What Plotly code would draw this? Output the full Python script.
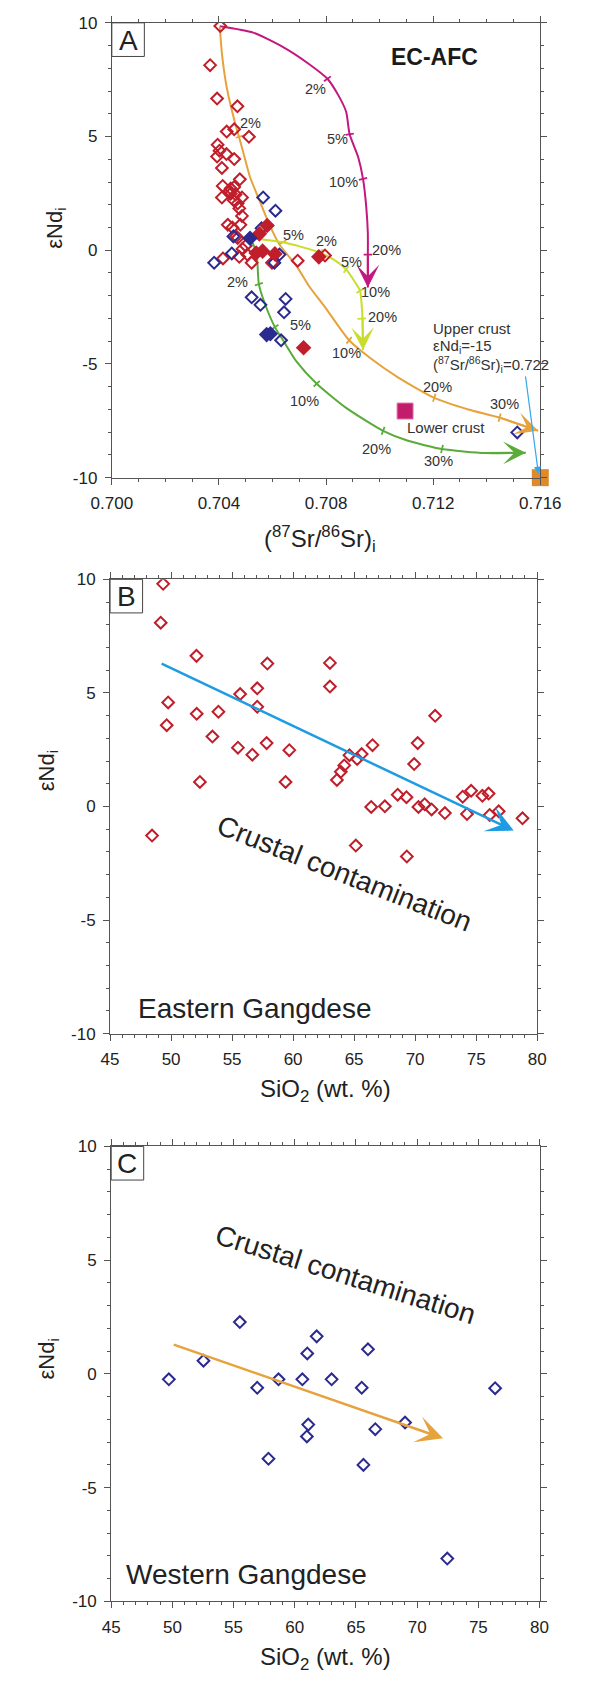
import math
import plotly.graph_objects as go

W, H = 590, 1686
FONT = "Liberation Sans, Arial, sans-serif"

# ---------------- Panel A data ----------------
a_red_open_x = [0.70405, 0.70367, 0.70393, 0.70469, 0.70429, 0.70457, 0.70512, 0.70395, 0.70402, 0.70428,
                0.70457, 0.70393, 0.70411, 0.70478, 0.70414, 0.70444, 0.70457, 0.70411, 0.70486, 0.70444,
                0.70470, 0.70476, 0.70486, 0.70433, 0.70480, 0.70470, 0.70488, 0.70415, 0.70476, 0.70506,
                0.70522, 0.70598, 0.70694, 0.70796, 0.70464, 0.70455, 0.70440, 0.70462, 0.70450, 0.70500]
a_red_open_y = [9.86, 8.14, 6.67, 6.33, 5.22, 5.32, 4.99, 4.64, 4.38, 4.23,
                4.01, 4.12, 3.62, 3.12, 2.83, 2.71, 2.78, 2.32, 2.32, 2.49,
                2.06, 1.84, 1.51, 1.12, 1.12, 0.54, 0.06, -0.36, -0.29, -0.19,
                -0.55, -0.55, -0.46, -0.23, 0.61, 2.20, 2.60, 2.45, 1.00, 0.20]
a_red_fill_x = [0.70580, 0.70551, 0.70563, 0.70609, 0.70539, 0.70773, 0.70716]
a_red_fill_y = [1.09, 0.72, -0.04, -0.16, -0.12, -0.29, -4.29]
a_blue_open_x = [0.70565, 0.70611, 0.70382, 0.70448, 0.70454, 0.70559, 0.70607, 0.70522, 0.70555,
                 0.70649, 0.70643, 0.70632, 0.71514, 0.70626]
a_blue_open_y = [2.32, 1.74, -0.55, -0.14, 0.61, 0.97, -0.55, -2.07, -2.40,
                 -2.14, -2.73, -3.96, -8.01, -0.19]
a_blue_fill_x = [0.70516, 0.70578, 0.70592]
a_blue_fill_y = [0.53, -3.71, -3.67]

lower_crust_x, lower_crust_y = [0.71095], [-7.07]
upper_crust_x, upper_crust_y = [0.71600], [-10.0]

# EC-AFC model curves (last point = arrow tip)
magenta_x = [0.70403, 0.70528, 0.70643, 0.70736, 0.70805, 0.70846, 0.70875, 0.70888, 0.70920, 0.70938,
             0.70950, 0.70956, 0.70956, 0.70956]
magenta_y = [9.85, 9.57, 8.91, 8.19, 7.54, 6.81, 6.09, 5.10, 4.09, 3.14, 1.91, 0.75, -0.19, -1.64]
orange_x = [0.70403, 0.70412, 0.70430, 0.70459, 0.70484, 0.70516, 0.70551, 0.70586, 0.70626, 0.70690,
            0.70736, 0.70796, 0.70886, 0.70966, 0.71070, 0.71204, 0.71331, 0.71448, 0.71592]
orange_y = [9.83, 8.55, 7.10, 5.65, 4.60, 3.22, 2.20, 1.19, 0.25, -0.70,
            -1.57, -2.50, -3.96, -4.75, -5.60, -6.49, -7.00, -7.36, -7.94]
yellow_x = [0.70516, 0.70638, 0.70701, 0.70780, 0.70829, 0.70875, 0.70909, 0.70927, 0.70933, 0.70936, 0.70938]
yellow_y = [0.55, 0.35, 0.17, -0.12, -0.41, -0.84, -1.42, -1.78, -2.43, -3.01, -4.39]
green_x = [0.70516, 0.70540, 0.70549, 0.70574, 0.70609, 0.70643, 0.70690, 0.70765, 0.70875, 0.71013,
           0.71106, 0.71233, 0.71395, 0.71546]
green_y = [0.55, -0.10, -1.49, -2.43, -3.38, -4.03, -4.90, -5.87, -6.93, -7.94,
           -8.38, -8.74, -8.92, -8.90]

# curve percentage ticks and labels
magenta_tick_x = [0.70805, 0.70888, 0.70938, 0.70956]
magenta_tick_y = [7.54, 5.10, 3.14, -0.19]
magenta_lab_x = [0.70759, 0.70842, 0.70864, 0.71027]
magenta_lab_y = [7.10, 4.88, 3.00, 0.03]
magenta_lab = ["2%", "5%", "10%", "20%"]
orange_tick_x = [0.70478, 0.70638, 0.70886, 0.71204, 0.71448]
orange_tick_y = [5.00, 0.35, -3.96, -6.49, -7.36]
orange_lab_x = [0.70516, 0.70678, 0.70875, 0.71216, 0.71468]
orange_lab_y = [5.58, 0.68, -4.54, -6.03, -6.75]
orange_lab = ["2%", "5%", "10%", "20%", "30%"]
yellow_tick_x = [0.70780, 0.70875, 0.70927, 0.70933]
yellow_tick_y = [-0.12, -0.84, -1.78, -3.01]
yellow_lab_x = [0.70803, 0.70896, 0.70985, 0.71011]
yellow_lab_y = [0.39, -0.52, -1.83, -2.94]
yellow_lab = ["2%", "5%", "10%", "20%"]
green_tick_x = [0.70549, 0.70609, 0.70765, 0.71013, 0.71233]
green_tick_y = [-1.49, -3.38, -5.87, -7.94, -8.74]
green_lab_x = [0.70470, 0.70704, 0.70718, 0.70988, 0.71219]
green_lab_y = [-1.39, -3.27, -6.64, -8.74, -9.25]
green_lab = ["2%", "5%", "10%", "20%", "30%"]

upper_arrow_x = [0.71544, 0.71593]
upper_arrow_y = [-5.48, -9.83]

# ---------------- Panel B data (Eastern Gangdese) ----------------
b_sio2 = [49.35, 49.15, 52.08, 57.89, 63.02, 63.02, 55.66, 57.06, 57.06, 49.76,
          49.64, 52.10, 53.88, 53.39, 71.64, 55.48, 56.66, 57.83, 59.69, 52.36,
          59.38, 66.51, 70.21, 69.92, 64.62, 65.62, 65.25, 64.19, 63.91, 63.59,
          66.40, 67.52, 68.57, 69.29, 70.27, 70.78, 71.35, 72.44, 73.90, 74.59,
          74.25, 75.51, 76.02, 76.11, 76.85, 78.80, 48.44, 65.14, 69.32]
b_end = [9.80, 8.09, 6.63, 6.29, 6.32, 5.28, 4.95, 5.20, 4.39, 4.58,
         3.58, 4.08, 4.17, 3.08, 3.99, 2.59, 2.28, 2.79, 2.48, 1.08,
         1.08, 2.70, 2.79, 1.87, 2.26, 2.31, 2.09, 1.81, 1.53, 1.17,
         -0.02, 0.01, 0.52, 0.41, -0.02, 0.10, -0.13, -0.29, 0.43, 0.69,
         -0.33, 0.47, 0.57, -0.37, -0.21, -0.52, -1.28, -1.72, -2.20]
b_arrow_x = [49.10, 78.08]
b_arrow_y = [6.32, -1.06]

# ---------------- Panel C data (Western Gangdese) ----------------
c_sio2 = [49.71, 52.54, 55.51, 56.93, 58.67, 57.85, 60.62, 61.02, 61.79, 61.10,
          60.99, 63.01, 65.47, 65.98, 65.61, 66.58, 69.01, 76.37, 72.46]
c_end = [-0.24, 0.58, 2.28, -0.61, -0.24, -3.73, -0.24, 0.90, 1.65, -2.23,
         -2.75, -0.24, -0.61, 1.08, -4.00, -2.43, -2.14, -0.63, -8.12]
c_arrow_x = [49.99, 72.12]
c_arrow_y = [1.31, -2.83]

# tick labels
a_xticks = [0.700, 0.704, 0.708, 0.712, 0.716]
a_xlabels = ["0.700", "0.704", "0.708", "0.712", "0.716"]
sio2_ticks = [45, 50, 55, 60, 65, 70, 75, 80]
sio2_labels = ["45", "50", "55", "60", "65", "70", "75", "80"]
end_ticks = [-10, -5, 0, 5, 10]
end_labels = ["-10", "-5", "0", "5", "10"]

# ---------------- colours ----------------
RED = "#bf1e2a"
NAVY = "#2b2a8e"
MAGENTA = "#c2187f"
ORANGE = "#e6a23c"
YELLOW = "#c9dd2a"
GREEN = "#5aab3a"
BLUE = "#1f9be2"
AXC = "#555555"
TXT = "#222222"

# ---------------- layout geometry (pixels) ----------------
PANELS = {
    "A": dict(x0=97.8, x1=559.1, y0=14.0, y1=474.0, xr=[0.700, 0.716]),
    "B": dict(x0=95.9, x1=555.7, y0=576.8, y1=1036.4, xr=[45, 80]),
    "C": dict(x0=97.1, x1=558.3, y0=1150.4, y1=1610.5, xr=[45, 80]),
}


def pxf(x):
    return x / W


def pyf(y):
    return 1 - y / H


fig = go.Figure()

axis_names = {"A": ("x", "y"), "B": ("x2", "y2"), "C": ("x3", "y3")}


def tick_angles(cx, cy, tx, ty, panel):
    p = PANELS[panel]
    sx = (p["x1"] - p["x0"]) / (p["xr"][1] - p["xr"][0])
    sy = (p["y1"] - p["y0"]) / 20.0
    out = []
    for X, Y in zip(tx, ty):
        best, bi = 1e9, 0
        for i in range(len(cx) - 1):
            mx = (cx[i] + cx[i + 1]) / 2
            my = (cy[i] + cy[i + 1]) / 2
            d = ((mx - X) * sx) ** 2 + ((my - Y) * sy) ** 2
            if d < best:
                best, bi = d, i
        dx = (cx[bi + 1] - cx[bi]) * sx
        dy = -(cy[bi + 1] - cy[bi]) * sy
        a = math.degrees(math.atan2(dx, -dy))
        out.append(a + 90)
    return out


# curves in panel A
for cx, cy, col, tx, ty in [
    (magenta_x, magenta_y, MAGENTA, magenta_tick_x, magenta_tick_y),
    (orange_x, orange_y, ORANGE, orange_tick_x, orange_tick_y),
    (yellow_x, yellow_y, YELLOW, yellow_tick_x, yellow_tick_y),
    (green_x, green_y, GREEN, green_tick_x, green_tick_y),
]:
    fig.add_trace(go.Scatter(x=cx, y=cy, mode="lines", line=dict(color=col, width=2, shape="spline", smoothing=0.6),
                             xaxis="x", yaxis="y", hoverinfo="skip", showlegend=False))
    fig.add_trace(go.Scatter(x=tx, y=ty, mode="markers", xaxis="x", yaxis="y", showlegend=False,
                             marker=dict(symbol="line-ns", size=6, color=col,
                                         angle=tick_angles(cx, cy, tx, ty, "A"),
                                         line=dict(color=col, width=1.8))))
    fig.add_annotation(x=cx[-1], y=cy[-1], ax=cx[-2], ay=cy[-2], xref="x", yref="y", axref="x", ayref="y",
                       showarrow=True, arrowhead=3, arrowsize=1.9, arrowwidth=2, arrowcolor=col, text="")

# data points panel A
fig.add_trace(go.Scatter(x=a_red_open_x, y=a_red_open_y, mode="markers", xaxis="x", yaxis="y", showlegend=False,
                         marker=dict(symbol="diamond-open", size=9, color=RED, line=dict(color=RED, width=2))))
fig.add_trace(go.Scatter(x=a_blue_open_x, y=a_blue_open_y, mode="markers", xaxis="x", yaxis="y", showlegend=False,
                         marker=dict(symbol="diamond-open", size=9, color=NAVY, line=dict(color=NAVY, width=2))))
fig.add_trace(go.Scatter(x=a_red_fill_x, y=a_red_fill_y, mode="markers", xaxis="x", yaxis="y", showlegend=False,
                         marker=dict(symbol="diamond", size=12, color=RED, line=dict(width=0))))
fig.add_trace(go.Scatter(x=a_blue_fill_x, y=a_blue_fill_y, mode="markers", xaxis="x", yaxis="y", showlegend=False,
                         marker=dict(symbol="diamond", size=12, color=NAVY, line=dict(width=0))))
fig.add_trace(go.Scatter(x=lower_crust_x, y=lower_crust_y, mode="markers", xaxis="x", yaxis="y", showlegend=False,
                         marker=dict(symbol="square", size=16, color="#c21d6b", line=dict(width=1, color="#e07aa8"))))
fig.add_trace(go.Scatter(x=upper_crust_x, y=upper_crust_y, mode="markers", xaxis="x", yaxis="y", showlegend=False,
                         cliponaxis=False,
                         marker=dict(symbol="square", size=17, color="#df8a2a", line=dict(width=0))))
fig.add_annotation(x=upper_arrow_x[1], y=upper_arrow_y[1], ax=upper_arrow_x[0], ay=upper_arrow_y[0],
                   xref="x", yref="y", axref="x", ayref="y", showarrow=True, arrowhead=2, arrowsize=1.2,
                   arrowwidth=1.2, arrowcolor="#35a8e8", text="")

# percentage labels
for lx, ly, lt in [(magenta_lab_x, magenta_lab_y, magenta_lab), (orange_lab_x, orange_lab_y, orange_lab),
                   (yellow_lab_x, yellow_lab_y, yellow_lab), (green_lab_x, green_lab_y, green_lab)]:
    for X, Y, T in zip(lx, ly, lt):
        fig.add_annotation(x=X, y=Y, xref="x", yref="y", text=T, showarrow=False,
                           font=dict(family=FONT, size=14.5, color="#333333"))

# crust labels
fig.add_annotation(x=0.71094, y=-7.80, xref="x", yref="y", text="Lower crust", showarrow=False, xanchor="left",
                   font=dict(family=FONT, size=15, color="#333333"))
ucx = 0.71193
for Y, T in [(-3.45, "Upper crust"), (-4.25, "εNd<sub>i</sub>=-15"),
             (-5.01, "(<sup>87</sup>Sr/<sup>86</sup>Sr)<sub>i</sub>=0.722")]:
    fig.add_annotation(x=ucx, y=Y, xref="x", yref="y", text=T, showarrow=False, xanchor="left",
                       font=dict(family=FONT, size=15, color="#333333"))
fig.add_annotation(x=pxf(494.7), y=pyf(33.3), xref="paper", yref="paper", text="<b>EC-AFC</b>", showarrow=False,
                   font=dict(family=FONT, size=23, color="#1a1a1a"))

# ---------------- Panel B ----------------
fig.add_trace(go.Scatter(x=b_sio2, y=b_end, mode="markers", xaxis="x2", yaxis="y2", showlegend=False,
                         marker=dict(symbol="diamond-open", size=9, color=RED, line=dict(color=RED, width=2))))
fig.add_annotation(x=b_arrow_x[1], y=b_arrow_y[1], ax=b_arrow_x[0], ay=b_arrow_y[0], xref="x2", yref="y2",
                   axref="x2", ayref="y2", showarrow=True, arrowhead=3, arrowsize=1.8, arrowwidth=2.5,
                   arrowcolor=BLUE, text="")
fig.add_annotation(x=64.2, y=-2.95, xref="x2", yref="y2", text="Crustal contamination", showarrow=False,
                   textangle=21.5, font=dict(family=FONT, size=28, color=TXT))
fig.add_annotation(x=47.15, y=-8.9, xref="x2", yref="y2", text="Eastern Gangdese", showarrow=False,
                   xanchor="left", font=dict(family=FONT, size=28, color=TXT))

# ---------------- Panel C ----------------
fig.add_trace(go.Scatter(x=c_sio2, y=c_end, mode="markers", xaxis="x3", yaxis="y3", showlegend=False,
                         marker=dict(symbol="diamond-open", size=9, color=NAVY, line=dict(color=NAVY, width=2))))
fig.add_annotation(x=c_arrow_x[1], y=c_arrow_y[1], ax=c_arrow_x[0], ay=c_arrow_y[0], xref="x3", yref="y3",
                   axref="x3", ayref="y3", showarrow=True, arrowhead=3, arrowsize=1.8, arrowwidth=2.5,
                   arrowcolor=ORANGE, text="")
fig.add_annotation(x=64.13, y=4.35, xref="x3", yref="y3", text="Crustal contamination", showarrow=False,
                   textangle=17.5, font=dict(family=FONT, size=28, color=TXT))
fig.add_annotation(x=46.05, y=-8.8, xref="x3", yref="y3", text="Western Gangdese", showarrow=False,
                   xanchor="left", font=dict(family=FONT, size=28, color=TXT))

# ---------------- axes ----------------
layout_axes = {}
for key, (xa, ya) in axis_names.items():
    p = PANELS[key]
    xname = "xaxis" if xa == "x" else "xaxis" + xa[1:]
    yname = "yaxis" if ya == "y" else "yaxis" + ya[1:]
    if key == "A":
        xt, xl, xminor = a_xticks, a_xlabels, dict(tick0=0.700, dtick=0.001)
    else:
        xt, xl, xminor = sio2_ticks, sio2_labels, dict(tick0=45, dtick=1)
    common = dict(showline=True, linecolor=AXC, linewidth=1, mirror="allticks", ticks="outside", ticklen=6,
                  tickcolor=AXC, tickwidth=1, showgrid=False, zeroline=False, ticklabelstandoff=4,
                  tickfont=dict(family=FONT, size=17, color=TXT))
    layout_axes[xname] = dict(common, domain=[pxf(p["x0"]), pxf(p["x1"])], range=p["xr"], anchor=ya,
                              tickmode="array", tickvals=xt, ticktext=xl,
                              minor=dict(xminor, tickmode="linear", ticks="outside", ticklen=3, tickcolor=AXC))
    layout_axes[yname] = dict(common, domain=[pyf(p["y1"]), pyf(p["y0"])], range=[-10, 10], anchor=xa,
                              tickmode="array", tickvals=end_ticks, ticktext=end_labels,
                              minor=dict(tick0=0, dtick=1, tickmode="linear", ticks="outside", ticklen=3,
                                         tickcolor=AXC))
    # panel letter box (paper coordinates)
    fig.add_shape(type="rect", xref="paper", yref="paper", x0=pxf(p["x0"]), x1=pxf(p["x0"] + 35),
                  y0=pyf(p["y0"] + 34), y1=pyf(p["y0"]), line=dict(color="#444444", width=1),
                  fillcolor="rgba(0,0,0,0)")
    fig.add_annotation(xref="paper", yref="paper", x=pxf(p["x0"] + 17.5), y=pyf(p["y0"] + 17.5),
                       xanchor="center", yanchor="middle", text=key, showarrow=False,
                       font=dict(family=FONT, size=28, color=TXT))

# axis titles
ytitle = "εNd<sub>i</sub>"
for (xpx, ypx) in [(38, 222), (29, 770), (29, 1365)]:
    fig.add_annotation(x=pxf(xpx), y=pyf(ypx), xref="paper", yref="paper", text=ytitle, textangle=-90,
                       xanchor="center", yanchor="middle",
                       showarrow=False, font=dict(family=FONT, size=22, color=TXT))
fig.add_annotation(x=pxf(322), y=pyf(536), xref="paper", yref="paper", xanchor="center", yanchor="middle",
                   text="(<sup>87</sup>Sr/<sup>86</sup>Sr)<sub>i</sub>", showarrow=False,
                   font=dict(family=FONT, size=24, color=TXT))
for ypx in [1094, 1668]:
    fig.add_annotation(x=pxf(328), y=pyf(ypx), xref="paper", yref="paper", xanchor="center", yanchor="middle",
                       text="SiO<sub>2</sub> (wt. %)",
                       showarrow=False, font=dict(family=FONT, size=24, color=TXT))

fig.update_layout(width=W, height=H, margin=dict(l=0, r=0, t=0, b=0), paper_bgcolor="white",
                  plot_bgcolor="white", showlegend=False, **layout_axes)

fig.write_html("out.html")
